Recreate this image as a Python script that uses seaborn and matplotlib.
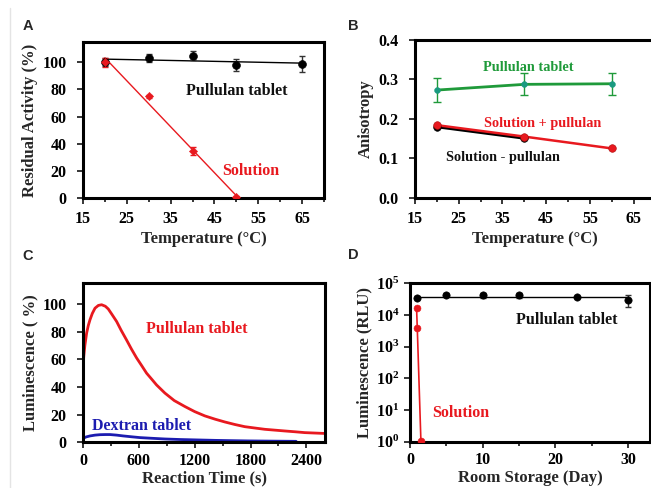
import numpy as np
import seaborn as sns
import matplotlib.pyplot as plt
from matplotlib.lines import Line2D
from matplotlib.ticker import MultipleLocator, FixedLocator, NullLocator, FormatStrFormatter

# ===== data =====
# A: residual activity vs temperature
a_tablet_temp = [20, 30, 40, 50, 65]
a_tablet_act = [100, 103, 105, 98, 99]
a_tablet_err = [3, 3, 3.5, 4.5, 6]
a_sol_temp = [20, 30, 40, 50]
a_sol_act = [100, 75, 34.6, 0.5]
a_sol_err = [3.5, 1, 3, 1]

# B: anisotropy vs temperature
b_temp = [20, 40, 60]
b_tablet = [0.273, 0.2875, 0.289]
b_tablet_err = [0.03, 0.028, 0.028]
b_sol_plus = [0.184, 0.155, 0.125]
b_sol_minus_temp = [20, 40]
b_sol_minus = [0.180, 0.151]

# C: luminescence vs reaction time
c_pull_time = [0, 8, 20, 39, 57, 75, 100, 129, 165, 200, 240, 272, 310, 361, 410, 468, 520,
               576, 630, 683, 740, 790, 880, 980, 1094, 1200, 1309, 1420, 1524, 1630, 1738,
               1850, 1953, 2060, 2167, 2280, 2382, 2490, 2600]
c_pull_lum = [52.9, 62, 70, 79, 84.5, 88.6, 93.2, 97, 99, 99.5, 98.4, 96.4, 92.6, 87.4, 81,
              74, 67.5, 61, 55.5, 50, 45.5, 41.5, 35.6, 30.2, 25.9, 22.2, 19.1, 16.7, 14.7,
              12.9, 11.3, 10.3, 9.4, 8.8, 8.2, 7.6, 7.0, 6.7, 6.4]
c_dex_time = [0, 35, 75, 130, 182, 240, 290, 360, 433, 520, 612, 740, 880, 1050, 1234, 1420,
              1591, 1780, 1948, 2120, 2290]
c_dex_lum = [2.9, 3.9, 4.6, 5.2, 5.5, 5.6, 5.6, 5.2, 4.6, 4.0, 3.4, 2.9, 2.4, 2.0, 1.7, 1.4,
             1.2, 1.0, 0.9, 0.8, 0.7]

# D: luminescence vs storage days
d_tab_day = [1, 5, 10, 15, 23, 30]
d_tab_lum = [3.5e4, 4.4e4, 4.2e4, 4.2e4, 3.7e4, 3.0e4]
d_tab_err = [4e3, 5e3, 8e3, 8e3, 3e3, 1.2e4]
d_sol_day = [0.9, 1.0, 1.5]
d_sol_lum = [1.7e4, 3.9e3, 1.05]

RED = '#e8191f'
GREEN = '#1f9a3a'
TEAL = '#1a9a80'
BLUE = '#1c1cb0'

sns.set_style('ticks')
plt.rcParams['font.family'] = ['Liberation Serif', 'DejaVu Serif']
plt.rcParams['font.weight'] = 'bold'
plt.rcParams['axes.labelweight'] = 'bold'
plt.rcParams['mathtext.fontset'] = 'custom'
plt.rcParams['mathtext.rm'] = 'Liberation Serif:bold'
plt.rcParams['mathtext.it'] = 'Liberation Serif:bold'
plt.rcParams['mathtext.bf'] = 'Liberation Serif:bold'
plt.rcParams['mathtext.default'] = 'rm'
plt.rcParams['lines.solid_joinstyle'] = 'round'
plt.rcParams['lines.solid_capstyle'] = 'round'

W, H = 651, 488
fig = plt.figure(figsize=(W / 100, H / 100), dpi=100)
fig.patch.set_facecolor('white')


def box(l, t, r, b):
    return [l / W, 1 - b / H, (r - l) / W, (b - t) / H]


def style_axes(ax, ypad=8, xpad=5.5):
    for sp in ax.spines.values():
        sp.set_visible(True)
        sp.set_linewidth(2.2)
        sp.set_color('black')
    ax.tick_params(which='both', direction='out', width=1.1, colors='black', labelsize=11.5)
    ax.tick_params(which='major', length=4)
    ax.tick_params(which='minor', length=3)
    ax.tick_params(axis='x', pad=xpad)
    ax.tick_params(axis='y', pad=ypad)
    ax.yaxis.set_minor_locator(NullLocator())
    ax.set_facecolor('white')
    for lab in ax.get_xticklabels() + ax.get_yticklabels():
        lab.set_fontweight('bold')


# ===== A =====
axA = fig.add_axes(box(83, 42, 324, 198))
sns.regplot(x=np.array(a_tablet_temp), y=np.array(a_tablet_act), ax=axA, ci=None, scatter=False,
            truncate=True, line_kws=dict(color='black', lw=1))
sns.regplot(x=np.array(a_sol_temp), y=np.array(a_sol_act), ax=axA, ci=None, scatter=False,
            truncate=True, line_kws=dict(color=RED, lw=1))
axA.errorbar(a_tablet_temp, a_tablet_act, yerr=a_tablet_err, fmt='none', ecolor='#333333',
             elinewidth=1, capsize=2.5)
sns.scatterplot(x=a_tablet_temp, y=a_tablet_act, ax=axA, color='black', s=32, edgecolor='black', zorder=3)
axA.errorbar(a_sol_temp, a_sol_act, yerr=a_sol_err, fmt='none', ecolor=RED, elinewidth=1, capsize=2.5)
sns.scatterplot(x=a_sol_temp, y=a_sol_act, ax=axA, color=RED, s=18, marker='D', edgecolor=RED, zorder=4)
axA.set_xlim(15, 70)
axA.set_ylim(0, 115)
axA.xaxis.set_major_locator(FixedLocator([15, 25, 35, 45, 55, 65]))
axA.xaxis.set_minor_locator(FixedLocator([20, 30, 40, 50, 60, 70]))
axA.yaxis.set_major_locator(FixedLocator([0, 20, 40, 60, 80, 100]))
axA.set_xlabel('Temperature (°C)', fontsize=12, labelpad=3)
axA.set_ylabel('Residual Activity (%)', fontsize=12, labelpad=3)
axA.text(50.0, 79, 'Pullulan tablet', ha='center', va='center', fontsize=11.5, fontweight='bold', color='#111111')
axA.text(53.2, 20, 'Solution', ha='center', va='center', fontsize=11.5, fontweight='bold', color=RED)
style_axes(axA)

# ===== B =====
axB = fig.add_axes(box(415, 40, 655.5, 197.7))
axB.errorbar(b_temp, b_tablet, yerr=b_tablet_err, fmt='none', ecolor=GREEN, elinewidth=1, capsize=3)
sns.lineplot(x=b_temp, y=b_tablet, ax=axB, color=GREEN, lw=2)
sns.scatterplot(x=b_temp, y=b_tablet, ax=axB, color=TEAL, s=18, edgecolor=TEAL, zorder=4)
sns.lineplot(x=b_sol_minus_temp, y=b_sol_minus, ax=axB, color='black', lw=2.2)
sns.scatterplot(x=b_sol_minus_temp, y=b_sol_minus, ax=axB, color='black', s=30, edgecolor='black', zorder=3)
sns.lineplot(x=b_temp, y=b_sol_plus, ax=axB, color=RED, lw=1.8)
sns.scatterplot(x=b_temp, y=b_sol_plus, ax=axB, color=RED, s=30, edgecolor='#b01010', zorder=4)
axB.set_xlim(15, 70)
axB.set_ylim(0, 0.4)
axB.xaxis.set_major_locator(FixedLocator([15, 25, 35, 45, 55, 65]))
axB.xaxis.set_minor_locator(FixedLocator([20, 30, 40, 50, 60, 70]))
axB.yaxis.set_major_locator(MultipleLocator(0.1))
axB.yaxis.set_major_formatter(FormatStrFormatter('%.1f'))
axB.set_xlabel('Temperature (°C)', fontsize=12, labelpad=3)
axB.set_ylabel('Anisotropy', fontsize=12, labelpad=3)
axB.text(40.9, 0.331, 'Pullulan tablet', ha='center', va='center', fontsize=10.3, fontweight='bold', color=GREEN)
axB.text(44.3, 0.189, 'Solution + pullulan', ha='center', va='center', fontsize=10.3, fontweight='bold', color=RED)
axB.text(35.0, 0.103, 'Solution - pullulan', ha='center', va='center', fontsize=10.3, fontweight='bold', color='#111111')
style_axes(axB)

# ===== C =====
axC = fig.add_axes(box(83, 283.3, 325, 442.3))
sns.lineplot(x=c_pull_time, y=c_pull_lum, ax=axC, color=RED, lw=2)
sns.lineplot(x=c_dex_time, y=c_dex_lum, ax=axC, color=BLUE, lw=2)
axC.set_xlim(0, 2600)
axC.set_ylim(0, 115)
axC.xaxis.set_major_locator(MultipleLocator(600))
axC.xaxis.set_minor_locator(MultipleLocator(300))
axC.yaxis.set_major_locator(FixedLocator([0, 20, 40, 60, 80, 100]))
axC.set_xlabel('Reaction Time (s)', fontsize=12, labelpad=1)
axC.set_ylabel('Luminescence ( %)', fontsize=12, labelpad=3)
axC.text(1223, 81.6, 'Pullulan tablet', ha='center', va='center', fontsize=11.5, fontweight='bold', color=RED)
axC.text(633, 11.8, 'Dextran tablet', ha='center', va='center', fontsize=11.5, fontweight='bold', color=BLUE)
style_axes(axC, xpad=3.5)

# ===== D =====
axD = fig.add_axes(box(410, 283.3, 650, 441.7))
axD.set_yscale('log')
tab_mean = float(np.exp(np.mean(np.log(d_tab_lum))))
sns.lineplot(x=[min(d_tab_day), max(d_tab_day)], y=[tab_mean, tab_mean], ax=axD, color='black', lw=1)
axD.errorbar(d_tab_day, d_tab_lum, yerr=d_tab_err, fmt='none', ecolor='#333333', elinewidth=1, capsize=2)
sns.scatterplot(x=d_tab_day, y=d_tab_lum, ax=axD, color='black', s=28, edgecolor='black', zorder=3)
sns.lineplot(x=d_sol_day, y=d_sol_lum, ax=axD, color=RED, lw=1.2, sort=False)
sns.scatterplot(x=d_sol_day, y=d_sol_lum, ax=axD, color=RED, s=25, edgecolor=RED, zorder=4)
axD.set_xlim(0, 33)
axD.set_ylim(1, 1e5)
axD.xaxis.set_major_locator(FixedLocator([0, 10, 20, 30]))
axD.xaxis.set_minor_locator(FixedLocator([5, 15, 25]))
axD.yaxis.set_major_locator(FixedLocator([1, 10, 100, 1e3, 1e4, 1e5]))
axD.set_yticklabels([f'10$^{{{i}}}$' for i in range(6)])
axD.set_xlabel('Room Storage (Day)', fontsize=12, labelpad=1)
axD.set_ylabel('Luminescence (RLU)', fontsize=12, labelpad=3)
axD.text(21.5, 6900, 'Pullulan tablet', ha='center', va='center', fontsize=11.5, fontweight='bold', color='#111111')
axD.text(7.0, 8.0, 'Solution', ha='center', va='center', fontsize=11.5, fontweight='bold', color=RED)
style_axes(axD, ypad=3.5, xpad=3.5)

# panel letters
for letter, (px, py) in zip('ABCD', [(28, 26), (353, 26), (28, 256), (353, 255)]):
    fig.text(px / W, 1 - py / H, letter, fontsize=10.5, fontweight='bold',
             family=['Liberation Sans', 'DejaVu Sans'], ha='center', va='center')

# faint page edge on the left
fig.add_artist(Line2D([10 / W, 10 / W], [0, 1 - 8 / H], color='#e4e4e4', lw=1))

fig.savefig('out.png', dpi=100)
